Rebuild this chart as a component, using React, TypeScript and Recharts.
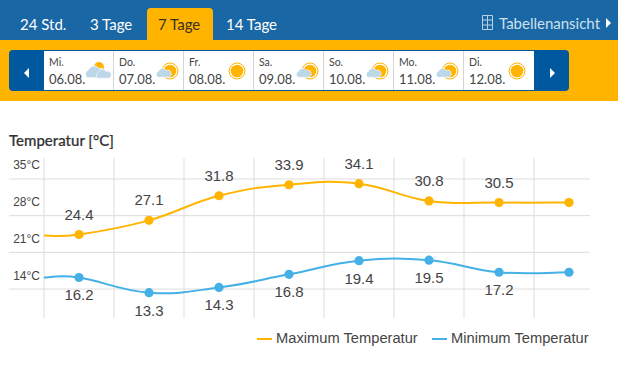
import { LineChart, Line, XAxis, YAxis, CartesianGrid, LabelList, Legend } from 'recharts'

const tabs = ['24 Std.', '3 Tage', '7 Tage', '14 Tage']
const tabLefts = [20, 90, 158, 226]
const weekdays = ['Mi.', 'Do.', 'Fr.', 'Sa.', 'So.', 'Mo.', 'Di.']
const dates = ['06.08.', '07.08.', '08.08.', '09.08.', '10.08.', '11.08.', '12.08.']
const icons = ['cloudy', 'mixed', 'sun', 'mixed', 'mixed', 'mixed', 'sun']

// x positions: -0.5 is the left start of the lines, 0..7 are the points
const positions = [-0.5, 0, 1, 2, 3, 4, 5, 6, 7]
const maxTemps = [24.2, 24.4, 27.1, 31.8, 33.9, 34.1, 30.8, 30.5, 30.5]
const minTemps = [16.2, 16.2, 13.3, 14.3, 16.8, 19.4, 19.5, 17.2, 17.2]
const gridX = [-0.5, 0.5, 1.5, 2.5, 3.5, 4.5, 5.5, 6.5]
const tempTicks = [14, 21, 28, 35]

const chartData = positions.map((x, i) => ({ x, max: maxTemps[i], min: minTemps[i] }))

const FONT = '"Liberation Sans", Arial, sans-serif'
const UI_FONT = 'Lato, sans-serif'
const ORANGE = '#ffb400'
const BLUE = '#45b0e6'

// cardinal spline, a bit looser than catmull-rom
function looseSpline(context: any) {
  let pts: number[][] = []
  const k = 0.21
  return {
    areaStart() {},
    areaEnd() {},
    lineStart() {
      pts = []
    },
    point(x: number, y: number) {
      pts.push([x, y])
    },
    lineEnd() {
      pts.forEach((p, i) => {
        if (i === 0) {
          context.moveTo(p[0], p[1])
          return
        }
        const a = pts[i - 2] ?? pts[i - 1]
        const b = pts[i - 1]
        const c = pts[i + 1] ?? p
        context.bezierCurveTo(
          b[0] + (p[0] - a[0]) * k,
          b[1] + (p[1] - a[1]) * k,
          p[0] - (c[0] - b[0]) * k,
          p[1] - (c[1] - b[1]) * k,
          p[0],
          p[1],
        )
      })
    },
  }
}

function TempTick({ y, payload }: any) {
  return (
    <text x={40} y={y - 9.5} textAnchor="end" fontFamily={FONT} fontSize={12} fill="#444">
      {payload.value}°C
    </text>
  )
}

function EmptyTick() {
  return <g />
}

function PointDot({ cx, cy, index, color }: any) {
  if (index === 0) return <g key={index} />
  return <circle key={index} cx={cx} cy={cy} r={4.6} fill={color} />
}

function PointLabel({ x, y, index, value, dy }: any) {
  if (index === 0 || index === positions.length - 1) return null
  return (
    <text x={x} y={y + dy} textAnchor="middle" fontFamily={FONT} fontSize={15} fill="#444">
      {Number(value).toFixed(1)}
    </text>
  )
}

function LegendRow() {
  const items = [
    { label: 'Maximum Temperatur', color: ORANGE, left: 257 },
    { label: 'Minimum Temperatur', color: BLUE, left: 432 },
  ]
  return (
    <div style={{ position: 'relative', width: 618, height: 20 }}>
      {items.map((it) => (
        <div key={it.label} style={{ position: 'absolute', left: it.left, top: 0, height: 20, fontFamily: FONT, fontSize: 14.7, color: '#444', whiteSpace: 'nowrap', lineHeight: '20px' }}>
          <span style={{ display: 'inline-block', width: 15, height: 2, background: it.color, verticalAlign: 'middle', marginRight: 4 }} />
          {it.label}
        </div>
      ))}
    </div>
  )
}

function Sun({ cx, cy }: { cx: number; cy: number }) {
  return (
    <g>
      <circle cx={cx} cy={cy} r={8} fill="#fff" stroke={ORANGE} strokeWidth={1} />
      <circle cx={cx} cy={cy} r={6.3} fill={ORANGE} />
    </g>
  )
}

function Cloud({ x, y, s, fill }: { x: number; y: number; s: number; fill: string }) {
  return (
    <g transform={`translate(${x} ${y}) scale(${s})`}>
      <path d="M2 12 a4 4 0 0 1 1 -7 a5 5 0 0 1 9 -1 a4 4 0 0 1 3 8 z" fill={fill} stroke="#fff" strokeWidth={0.7} />
    </g>
  )
}

function WeatherIcon({ kind }: { kind: string }) {
  return (
    <svg width={32} height={30} style={{ position: 'absolute', left: 38, top: 5 }}>
      {kind === 'sun' && <Sun cx={15} cy={15} />}
      {kind === 'mixed' && (
        <>
          <Sun cx={18} cy={15} />
          <Cloud x={4} y={11} s={0.85} fill="#bcd7e8" />
        </>
      )}
      {kind === 'cloudy' && (
        <>
          <circle cx={17} cy={11} r={5} fill={ORANGE} />
          <Cloud x={3} y={8} s={1.15} fill="#bcd7e8" />
          <Cloud x={14} y={12} s={0.85} fill="#bcd7e8" />
        </>
      )}
    </svg>
  )
}

function Header() {
  return (
    <>
      <div style={{ position: 'absolute', left: 0, top: 0, width: 618, height: 40, background: '#1a67a5' }} />
      <div style={{ position: 'absolute', left: 147, top: 8, width: 66, height: 32, background: ORANGE, borderRadius: '4px 4px 0 0' }} />
      {tabs.map((t, i) => (
        <div key={t} style={{ position: 'absolute', left: tabLefts[i], top: 14, fontFamily: UI_FONT, fontSize: 15, lineHeight: '20px', color: i === 2 ? '#3a3220' : '#fff', whiteSpace: 'nowrap' }}>
          {t}
        </div>
      ))}
      <svg width={14} height={17} style={{ position: 'absolute', left: 481, top: 14 }}>
        <path d="M1.5 1.5h10v14h-10zM1.5 6h10M1.5 11h10M6.5 1.5v14" fill="none" stroke="#b9d0e3" strokeWidth={1} />
      </svg>
      <div style={{ position: 'absolute', left: 499, top: 13, fontFamily: UI_FONT, fontSize: 15, lineHeight: '20px', color: '#cfe0ee', whiteSpace: 'nowrap' }}>
        Tabellenansicht
      </div>
      <svg width={8} height={12} style={{ position: 'absolute', left: 605, top: 17 }}>
        <path d="M1 1l5 5l-5 5z" fill="#fff" />
      </svg>
      <div style={{ position: 'absolute', left: 0, top: 40, width: 618, height: 61, background: ORANGE }} />
      <div style={{ position: 'absolute', left: 9, top: 50, width: 560, height: 41, background: '#00599e', borderRadius: 4 }} />
      <svg width={8} height={12} style={{ position: 'absolute', left: 23, top: 67 }}>
        <path d="M6 1l-5 5l5 5z" fill="#fff" />
      </svg>
      <svg width={8} height={12} style={{ position: 'absolute', left: 549, top: 67 }}>
        <path d="M1 1l5 5l-5 5z" fill="#fff" />
      </svg>
      {weekdays.map((d, i) => (
        <div key={d} style={{ position: 'absolute', left: 44 + i * 70, top: 51, width: 70, height: 39, background: '#fff', boxSizing: 'border-box', borderRight: i < 6 ? '1px solid #d5d5d5' : 'none', fontFamily: UI_FONT, color: '#444' }}>
          <div style={{ position: 'absolute', left: 5, top: 5, fontSize: 10.5, lineHeight: '13px' }}>{d}</div>
          <div style={{ position: 'absolute', left: 5, top: 20, fontSize: 13, lineHeight: '16px', whiteSpace: 'nowrap' }}>{dates[i]}</div>
          <WeatherIcon kind={icons[i]} />
        </div>
      ))}
      <div style={{ position: 'absolute', left: 9, top: 131, fontFamily: UI_FONT, fontWeight: 500, fontSize: 15, lineHeight: '18px', color: '#333', whiteSpace: 'nowrap', WebkitTextStroke: '0.2px #333' }}>
        Temperatur [°C]
      </div>
    </>
  )
}

export default function App() {
  return (
    <div style={{ position: 'absolute', left: 0, top: 0, width: 618, height: 367, background: '#fff', overflow: 'hidden' }}>
      <Header />
      <LineChart
        width={618}
        height={367}
        data={chartData}
        margin={{ top: 158, right: 28, bottom: 28, left: 8 }}
        style={{ position: 'absolute', left: 0, top: 0 }}
      >
        <CartesianGrid stroke="#ddd" strokeWidth={1} syncWithTicks />
        <XAxis type="number" dataKey="x" domain={[-1, 7.3]} ticks={gridX} height={1} tick={<EmptyTick />} interval={0} axisLine={false} tickLine={false} allowDataOverflow />
        <YAxis type="number" domain={[8.47, 39]} ticks={tempTicks} width={1} axisLine={false} tickLine={false} tick={<TempTick />} interval={0} allowDataOverflow />
        <Line dataKey="max" type={looseSpline as any} stroke={ORANGE} strokeWidth={2} isAnimationActive={false} dot={<PointDot color={ORANGE} />} activeDot={false}>
          <LabelList dataKey="max" content={<PointLabel dy={-15} />} />
        </Line>
        <Line dataKey="min" type={looseSpline as any} stroke={BLUE} strokeWidth={2} isAnimationActive={false} dot={<PointDot color={BLUE} />} activeDot={false}>
          <LabelList dataKey="min" content={<PointLabel dy={23} />} />
        </Line>
        <Legend content={<LegendRow />} wrapperStyle={{ left: 0, top: 328, width: 618 }} />
      </LineChart>
    </div>
  )
}
